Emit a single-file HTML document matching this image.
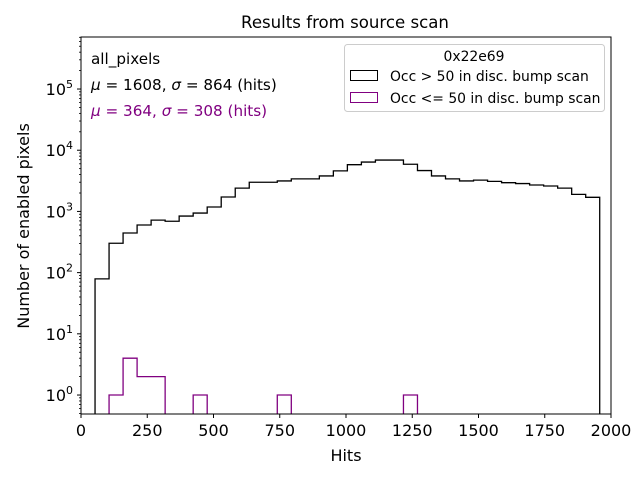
<!DOCTYPE html>
<html><head><meta charset="utf-8"><style>
body{margin:0;background:#fff}
svg{font-family:"DejaVu Sans","Liberation Sans",sans-serif}
</style></head><body>
<svg id="chart" width="640" height="480" xmlns="http://www.w3.org/2000/svg">
<rect width="640" height="480" fill="#fff"/>
<text x="345" y="28" font-size="16.6" text-anchor="middle">Results from source scan</text>
<g id="marks"></g>
<g id="axes"></g>
<text x="346" y="461" font-size="16" text-anchor="middle">Hits</text>
<text transform="translate(29,226) rotate(-90)" font-size="16" text-anchor="middle">Number of enabled pixels</text>
<text x="91" y="64" font-size="15.2">all_pixels</text>
<text x="91" y="90" font-size="15.2"><tspan font-style="italic">μ</tspan> = 1608, <tspan font-style="italic">σ</tspan> = 864 (hits)</text>
<text x="91" y="116" font-size="15.2" fill="#800080"><tspan font-style="italic">μ</tspan> = 364, <tspan font-style="italic">σ</tspan> = 308 (hits)</text>
<g>
<rect x="344.5" y="44.5" width="260" height="67" rx="3" fill="#fff" stroke="#ccc"/>
<text x="474" y="61" font-size="13.9" text-anchor="middle">0x22e69</text>
<rect x="350.5" y="70.5" width="27" height="10" fill="none" stroke="#000"/>
<text x="390" y="81" font-size="13.9">Occ &gt; 50 in disc. bump scan</text>
<rect x="350.5" y="92.5" width="27" height="10" fill="none" stroke="#800080"/>
<text x="390" y="103" font-size="13.9">Occ &lt;= 50 in disc. bump scan</text>
</g>
</svg>
<script>
const binStart = 53;
const binWidth = 52.9;
const blackCounts = [79,302,444,600,720,690,840,940,1180,1720,2400,3000,3000,3150,3400,3400,3800,4600,5800,6400,6900,6900,5900,4650,3800,3400,3150,3250,3100,2950,2850,2700,2600,2400,1900,1700];
const purpleCounts = [0,1,4,2,2,0,0,1,0,0,0,0,0,1,0,0,0,0,0,0,0,0,1,0,0,0,0,0,0,0,0,0,0,0,0,0];
const xTicks = [0,250,500,750,1000,1250,1500,1750,2000];
const yTickExps = [0,1,2,3,4,5];

const L=81,R=611,T=37,B=414;
const x = v => L + (v-0)/(2000-0)*(R-L);
const yMin=-0.31, yMax=5.85;
const y = v => v<=0 ? B+5 : B - (Math.log10(v)-yMin)/(yMax-yMin)*(B-T);
const NS="http://www.w3.org/2000/svg";
const marks=document.getElementById('marks'), axes=document.getElementById('axes');
function mk(tag,attrs,parent){const e=document.createElementNS(NS,tag);for(const k in attrs)e.setAttribute(k,attrs[k]);parent.appendChild(e);return e;}
const clip=mk('clipPath',{id:'pc'},marks);mk('rect',{x:L,y:T,width:R-L,height:B-T},clip);
function stepPath(c){
  let d=`M${x(binStart)},${B+5}`;
  c.forEach((v,i)=>{const x0=x(binStart+i*binWidth),x1=x(binStart+(i+1)*binWidth);d+=` L${x0},${y(v)} L${x1},${y(v)}`;});
  d+=` L${x(binStart+c.length*binWidth)},${B+5}`;return d;}
const pb=mk('path',{d:stepPath(blackCounts),fill:'none',stroke:'#000','stroke-width':1.3,'clip-path':'url(#pc)'},marks);


const pp=mk('path',{d:stepPath(purpleCounts),fill:'none',stroke:'#800080','stroke-width':1.3,'clip-path':'url(#pc)'},marks);


const frame=mk('rect',{x:L,y:T,width:R-L,height:B-T,fill:'none',stroke:'#000','stroke-width':1},axes);


xTicks.forEach(t=>{const px=x(t);mk('line',{x1:px,x2:px,y1:B,y2:B+4,stroke:'#000'},axes);
  const tx=mk('text',{x:px,y:B+22,'font-size':16,'text-anchor':'middle'},axes);tx.textContent=t;
  
  });
yTickExps.forEach(e=>{const py=y(Math.pow(10,e));mk('line',{x1:L-4,x2:L,y1:py,y2:py,stroke:'#000'},axes);
  const tx=mk('text',{x:L-8,y:py+6,'font-size':16,'text-anchor':'end'},axes);
  tx.innerHTML=`10<tspan dy="-7" font-size="11">${e}</tspan>`;
  
  });
for(let e=-1;e<=5;e++)for(let m=2;m<=9;m++){const v=m*Math.pow(10,e),lv=Math.log10(v);if(lv<yMin||lv>yMax)continue;const py=y(v);mk('line',{x1:L-2,x2:L,y1:py,y2:py,stroke:'#000','stroke-width':0.8},axes);}
</script>
</body></html>
